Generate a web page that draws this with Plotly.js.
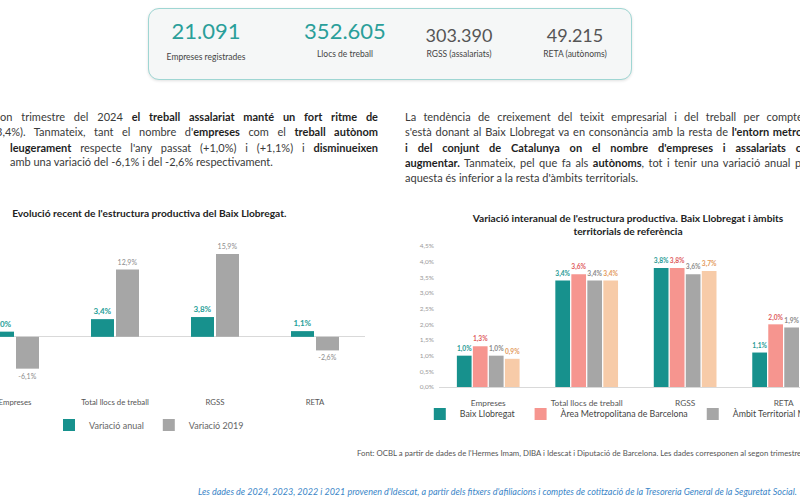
<!DOCTYPE html>
<html>
<head>
<meta charset="utf-8">
<script src="https://cdn.plot.ly/plotly-3.0.1.min.js"></script>
<style>
  html, body { margin:0; padding:0; width:800px; height:500px; overflow:hidden; background:#ffffff; font-family: Lato, "Open Sans", sans-serif; }
  #kpibox { position:absolute; left:148px; top:8px; width:482px; height:70px; border:1.5px solid #9fd6d3; border-radius:11px; background:#f5f7f7; box-shadow:0 1px 3px rgba(0,0,0,0.12); }
  .kpi { position:absolute; text-align:center; white-space:nowrap; }
  .kval { font-size:22px; line-height:22px; }
  .klab { font-size:8.5px; color:#444; }
  .pl { position:absolute; font-size:11px; line-height:14px; color:#3a3a3a; white-space:nowrap; }
  .just { text-align:justify; text-align-last:justify; white-space:normal; }
  .pl b { color:#1f1f1f; }
  #leftChart { position:absolute; left:-35px; top:200px; width:400px; height:240px; }
  #rightChart { position:absolute; left:400px; top:200px; width:689px; height:240px; }
  #font1 { position:absolute; left:357px; top:448px; font-size:7.8px; color:#555; white-space:nowrap; }
  #font2 { position:absolute; left:198px; top:486px; font-size:9px; color:#3a86c8; font-style:italic; white-space:nowrap; }
</style>
</head>
<body>
<div id="kpibox"></div>
<div id="kpis"></div>

<div class="pl just" style="left:0px; top:110px; width:378px;">on trimestre del 2024 <b>el treball assalariat manté un fort ritme de</b></div>
<div class="pl just" style="left:-4px; top:125px; width:382px;">3,4%). Tanmateix, tant el nombre d'<b>empreses</b> com el <b>treball autònom</b></div>
<div class="pl just" style="left:10px; top:141px; width:368px;"><b>leugerament</b> respecte l'any passat (+1,0%) i (+1,1%) i <b>disminueixen</b></div>
<div class="pl" style="left:10px; top:155px;">amb una variació del -6,1% i del -2,6% respectivament.</div>

<div class="pl just" style="left:405px; top:110px; width:430px;">La tendència de creixement del teixit empresarial i del treball per compte propi</div>
<div class="pl just" style="left:405px; top:125px; width:425px;">s'està donant al Baix Llobregat va en consonància amb la resta de <b>l'entorn metropolità</b></div>
<div class="pl just" style="left:405px; top:141px; width:440px;"><b>i del conjunt de Catalunya on el nombre d'empreses i assalariats continuen</b></div>
<div class="pl just" style="left:405px; top:156px; width:430px;"><b>augmentar.</b> Tanmateix, pel que fa als <b>autònoms</b>, tot i tenir una variació anual positiva,</div>
<div class="pl" style="left:405px; top:171px;">aquesta és inferior a la resta d'àmbits territorials.</div>

<div id="leftChart"></div>
<div id="rightChart"></div>

<div id="font1">Font: OCBL a partir de dades de l'Hermes Imam, DIBA i Idescat i Diputació de Barcelona. Les dades corresponen al segon trimestre del 2024.</div>
<div id="font2">Les dades de 2024, 2023, 2022 i 2021 provenen d'Idescat, a partir dels fitxers d'afiliacions i comptes de cotització de la Tresoreria General de la Seguretat Social.</div>

<script>
// ---- KPI data ----
const kpiValues = ['21.091', '352.605', '303.390', '49.215'];
const kpiLabels = ['Empreses registrades', 'Llocs de treball', 'RGSS (assalariats)', 'RETA (autònoms)'];

// ---- Left chart data ----
const categoriesLeft = ['Empreses', 'Total llocs de treball', 'RGSS', 'RETA'];
const variacioAnual = [1.0, 3.4, 3.8, 1.1];
const variacio2019 = [-6.1, 12.9, 15.9, -2.6];

// ---- Right chart data ----
const categoriesRight = ['Empreses', 'Total llocs de treball', 'RGSS', 'RETA'];
const baixLlobregat = [1.0, 3.4, 3.8, 1.1];
const areaMetropolitana = [1.3, 3.6, 3.8, 2.0];
const ambitTerritorial = [1.0, 3.4, 3.6, 1.9];
const catalunya = [0.9, 3.4, 3.7, 1.6];
const yTicksRight = [0, 0.5, 1, 1.5, 2, 2.5, 3, 3.5, 4, 4.5];
const yTickTextRight = ['0,0%', '0,5%', '1,0%', '1,5%', '2,0%', '2,5%', '3,0%', '3,5%', '4,0%', '4,5%'];

// KPI rendering
const kpiStyle = [
  {cx:206, size:22, color:'#2a9f9a', top:20, labTop:52},
  {cx:345, size:22, color:'#2a9f9a', top:20, labTop:49},
  {cx:459, size:18, color:'#555555', top:24, labTop:49},
  {cx:575, size:18, color:'#555555', top:24, labTop:49}
];
const kp = document.getElementById('kpis');
kpiValues.forEach((v, i) => {
  const s = kpiStyle[i];
  const d = document.createElement('div');
  d.className = 'kpi kval';
  d.style.left = (s.cx - 60) + 'px'; d.style.width = '120px';
  d.style.top = s.top + 'px'; d.style.fontSize = s.size + 'px'; d.style.color = s.color;
  d.textContent = v; kp.appendChild(d);
  const l = document.createElement('div');
  l.className = 'kpi klab';
  l.style.left = (s.cx - 60) + 'px'; l.style.width = '120px';
  l.style.top = s.labTop + 'px';
  l.textContent = kpiLabels[i]; kp.appendChild(l);
});

const FONT = 'Lato, "Open Sans", sans-serif';
const teal = '#17918d';

// Left chart
Plotly.newPlot('leftChart', [
  {type:'bar', name:'Variació anual', x:categoriesLeft, y:variacioAnual, marker:{color:teal},
   texttemplate:'%{y:.1f}%', textposition:'outside', cliponaxis:false,
   textfont:{color:'#1e9e98', size:8, family:FONT, weight:'bold'}, hoverinfo:'skip'},
  {type:'bar', name:'Variació 2019', x:categoriesLeft, y:variacio2019, marker:{color:'#a6a6a6'},
   texttemplate:'%{y:.1f}%', textposition:'outside', cliponaxis:false,
   textfont:{color:'#8c8c8c', size:7, family:FONT}, hoverinfo:'skip'}
], {
  width:400, height:240, margin:{l:0, r:0, t:43, b:51},
  paper_bgcolor:'rgba(0,0,0,0)', plot_bgcolor:'rgba(0,0,0,0)',
  separators:',.', barmode:'group', bargap:0.5, bargroupgap:0.08,
  font:{family:FONT},
  title:{text:"Evolució recent de l'estructura productiva del Baix Llobregat.",
         font:{size:10.2, color:'#222', family:FONT, weight:'bold'},
         xref:'container', yref:'container', x:0.118, xanchor:'left', y:0.942, yanchor:'middle'},
  xaxis:{showline:false, showgrid:false, ticks:'', tickfont:{size:7.8, color:'#555'}, ticklabelstandoff:7, fixedrange:true},
  yaxis:{range:[-10, 18], showticklabels:false, showgrid:false, zeroline:true, zerolinecolor:'#d9d9d9', zerolinewidth:1, fixedrange:true},
  legend:{orientation:'h', x:0.46, xanchor:'center', y:-0.247, yanchor:'middle', font:{size:9, color:'#666'}, itemwidth:30, traceorder:'normal'},
  showlegend:true
}, {staticPlot:true, displayModeBar:false});

// Right chart (plot area runs past the page's right edge, as in the cropped reference)
const seriesRight = [
  {name:'Baix Llobregat', y:baixLlobregat, color:'#17918d', label:'#1f9a94'},
  {name:'Àrea Metropolitana de Barcelona', y:areaMetropolitana, color:'#f6958f', label:'#de5a5c'},
  {name:'Àmbit Territorial Metropolità', y:ambitTerritorial, color:'#a6a6a6', label:'#8a8a8a'},
  {name:'Catalunya', y:catalunya, color:'#f7cba8', label:'#e39a5c'}
];
Plotly.newPlot('rightChart', seriesRight.map(s => ({
  type:'bar', name:s.name, x:categoriesRight, y:s.y, marker:{color:s.color},
  texttemplate:'%{y:.1f}%', textposition:'outside', cliponaxis:false,
  textfont:{color:s.label, size:7.5, family:FONT, weight:'bold'}, hoverinfo:'skip'
})), {
  width:689, height:240, margin:{l:39, r:10, t:46, b:53},
  paper_bgcolor:'rgba(0,0,0,0)', plot_bgcolor:'rgba(0,0,0,0)',
  separators:',.', barmode:'group', bargap:0.35, bargroupgap:0.08,
  font:{family:FONT},
  title:{text:"Variació interanual de l'estructura productiva. Baix Llobregat i àmbits<br>territorials de referència",
         font:{size:10.2, color:'#222', family:FONT, weight:'bold'},
         xref:'container', yref:'container', x:228/689, xanchor:'center', y:0.908, yanchor:'middle'},
  xaxis:{range:[-0.5, 6.0], showline:true, linecolor:'#d9d9d9', showgrid:false, ticks:'', tickfont:{size:8.3, color:'#555'}, ticklabelstandoff:8, fixedrange:true},
  yaxis:{range:[0, 4.5], tickvals:yTicksRight, ticktext:yTickTextRight, showgrid:false, zeroline:false,
         tickfont:{size:6.5, color:'#999'}, ticklabelstandoff:4, fixedrange:true},
  legend:{orientation:'h', x:-0.03, xanchor:'left', y:-27/141, yanchor:'middle',
          font:{size:8.8, color:'#444'}, itemwidth:30, traceorder:'normal'},
  showlegend:true
}, {staticPlot:true, displayModeBar:false});
</script>
</body>
</html>
